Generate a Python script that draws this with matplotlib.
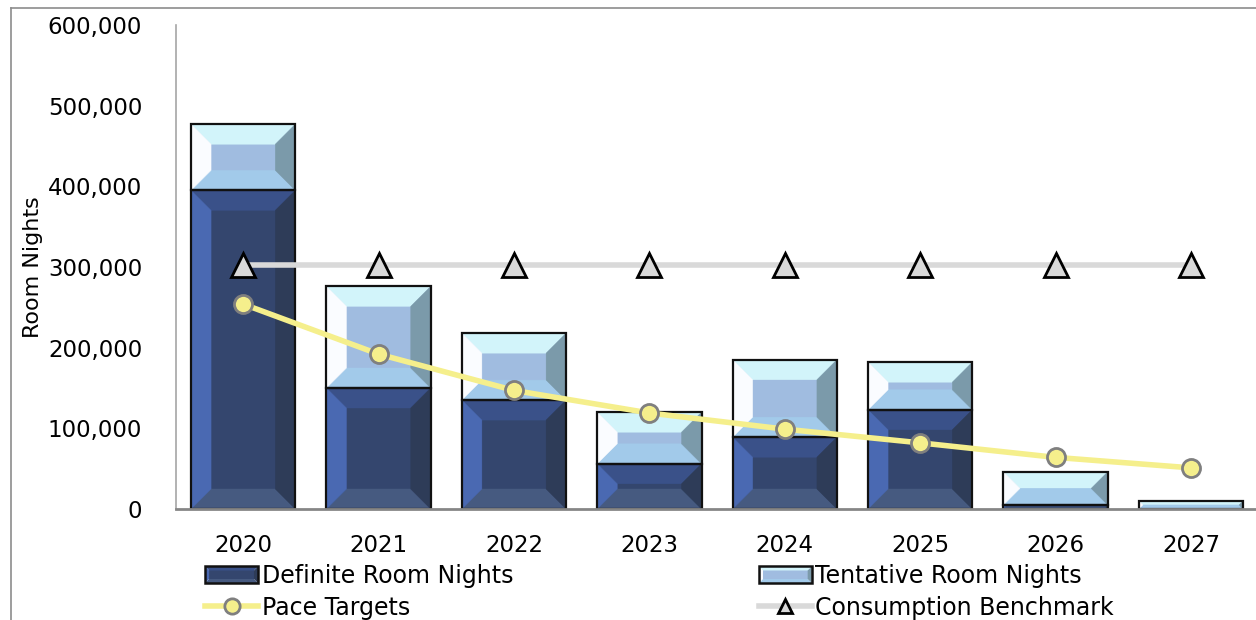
import matplotlib
matplotlib.use("Agg")
import matplotlib.pyplot as plt
from matplotlib.patches import Polygon, Rectangle
from matplotlib.lines import Line2D
from matplotlib.legend_handler import HandlerBase
from matplotlib.ticker import FuncFormatter

years = ["2020", "2021", "2022", "2023", "2024", "2025", "2026", "2027"]
definite = [395000, 150000, 135000, 56000, 89000, 123000, 5000, 0]
tentative = [82000, 126000, 83000, 64000, 96000, 59000, 41000, 10000]
pace_targets = [254000, 192000, 147000, 119000, 99000, 82000, 64000, 51000]
consumption = [302000] * 8

DEF_COLS = dict(center="#34466E", top="#3A5189", left="#4A69B2", right="#2E3C58", bottom="#465A80")
TEN_COLS = dict(center="#A0BCE0", top="#D2F4FA", left="#FAFCFF", right="#7B9AAA", bottom="#A2CAEA")

W, H, DPI = 1256, 620, 100
fig = plt.figure(figsize=(W / DPI, H / DPI), dpi=DPI)
plt.rcParams["font.family"] = ["DejaVu Sans"]

ax_l, ax_r, ax_b, ax_t = 175.5, 1258.7, 509, 25
ax = fig.add_axes([ax_l / W, 1 - ax_b / H, (ax_r - ax_l) / W, (ax_b - ax_t) / H])
ax.set_xlim(-0.5, len(years) - 0.5)
ax.set_ylim(0, 600000)

x = list(range(len(years)))
bw = 0.77

def bevel_patches(ax, rect, cols, bpx=20):
    x0, y0 = rect.get_x(), rect.get_y()
    x1, y1 = x0 + rect.get_width(), y0 + rect.get_height()
    (px0, py0) = ax.transData.transform((x0, y0))
    (px1, py1) = ax.transData.transform((x1, y1))
    hpx, wpx = abs(py1 - py0), abs(px1 - px0)
    if hpx < 0.5:
        return
    b = min(bpx, hpx / 2.0, wpx / 2.0)
    inv = ax.transData.inverted()
    def d(px, py):
        return inv.transform((px, py))
    polys = {
        "center": [d(px0 + b, py0 + b), d(px1 - b, py0 + b), d(px1 - b, py1 - b), d(px0 + b, py1 - b)],
        "top": [d(px0, py1), d(px1, py1), d(px1 - b, py1 - b), d(px0 + b, py1 - b)],
        "bottom": [d(px0, py0), d(px1, py0), d(px1 - b, py0 + b), d(px0 + b, py0 + b)],
        "left": [d(px0, py0), d(px0, py1), d(px0 + b, py1 - b), d(px0 + b, py0 + b)],
        "right": [d(px1, py0), d(px1, py1), d(px1 - b, py1 - b), d(px1 - b, py0 + b)],
    }
    for k, pts in polys.items():
        ax.add_patch(Polygon(pts, closed=True, facecolor=cols[k], edgecolor=cols[k],
                             linewidth=0.3, zorder=2))
    ax.add_patch(Rectangle((x0, y0), x1 - x0, y1 - y0, fill=False, edgecolor="#111111",
                           linewidth=1.6, zorder=2.5))

bars_def = ax.bar(x, definite, width=bw, color=DEF_COLS["center"], linewidth=0, zorder=1)
bars_ten = ax.bar(x, tentative, width=bw, bottom=definite, color=TEN_COLS["center"], linewidth=0, zorder=1)
for r in bars_def:
    bevel_patches(ax, r, DEF_COLS)
for r in bars_ten:
    bevel_patches(ax, r, TEN_COLS)

ax.plot(x, consumption, color="#D9D9D9", linewidth=4, marker="^", markersize=17,
        markerfacecolor="#D9D9D9", markeredgecolor="#000000", markeredgewidth=2, zorder=3)
ax.plot(x, pace_targets, color="#F5EF8C", linewidth=4, marker="o", markersize=13,
        markerfacecolor="#F5EF8C", markeredgecolor="#7F7F7F", markeredgewidth=2, zorder=4)

ax.set_xticks(x)
ax.set_xticklabels(years)
ax.set_yticks(range(0, 600001, 100000))
ax.yaxis.set_major_formatter(FuncFormatter(lambda v, p: f"{int(v):,}"))
ax.tick_params(axis="y", length=0, pad=24, labelsize=16.5, colors="#000000")
ax.tick_params(axis="x", length=0, pad=18, labelsize=16.5)
for s in ["top", "right"]:
    ax.spines[s].set_visible(False)
ax.spines["left"].set_color("#A6A6A6")
ax.spines["left"].set_linewidth(1.2)
ax.spines["bottom"].set_color("#868686")
ax.spines["bottom"].set_linewidth(2)
ax.set_ylabel("Room Nights", fontsize=16)
ax.yaxis.set_label_coords((43 - ax_l) / (ax_r - ax_l), 0.5)

# Legend
class HandlerBevel(HandlerBase):
    def __init__(self, cols):
        super().__init__()
        self.cols = cols
    def create_artists(self, legend, orig_handle, xdescent, ydescent, width, height, fontsize, trans):
        x0, y0 = -xdescent, -ydescent
        x1, y1 = x0 + width, y0 + height
        b = min(3, height / 2)
        c = self.cols
        arts = [
            Polygon([(x0 + b, y0 + b), (x1 - b, y0 + b), (x1 - b, y1 - b), (x0 + b, y1 - b)], facecolor=c["center"]),
            Polygon([(x0, y1), (x1, y1), (x1 - b, y1 - b), (x0 + b, y1 - b)], facecolor=c["top"]),
            Polygon([(x0, y0), (x1, y0), (x1 - b, y0 + b), (x0 + b, y0 + b)], facecolor=c["bottom"]),
            Polygon([(x0, y0), (x0, y1), (x0 + b, y1 - b), (x0 + b, y0 + b)], facecolor=c["left"]),
            Polygon([(x1, y0), (x1, y1), (x1 - b, y1 - b), (x1 - b, y0 + b)], facecolor=c["right"]),
            Rectangle((x0, y0), width, height, fill=False, edgecolor="#111111", linewidth=1.8),
        ]
        for a in arts:
            a.set_transform(trans)
            if isinstance(a, Polygon):
                a.set_edgecolor("none")
        return arts

h_def = Rectangle((0, 0), 1, 1)
h_ten = Rectangle((0, 1), 1, 1)
h_pace = Line2D([], [], color="#F5EF8C", linewidth=4, marker="o", markersize=11,
                markerfacecolor="#F5EF8C", markeredgecolor="#7F7F7F", markeredgewidth=2)
h_cons = Line2D([], [], color="#D9D9D9", linewidth=4, marker="^", markersize=10,
                markerfacecolor="#D9D9D9", markeredgecolor="#000000", markeredgewidth=2)
leg = fig.legend([h_def, h_pace, h_ten, h_cons],
                 ["Definite Room Nights", "Pace Targets", "Tentative Room Nights", "Consumption Benchmark"],
                 handler_map={h_def: HandlerBevel(DEF_COLS), h_ten: HandlerBevel(TEN_COLS)},
                 loc="upper left", bbox_to_anchor=(205 / W, 1 - 564 / H), ncol=2, frameon=False,
                 fontsize=17, handlelength=2.25, handleheight=0.72, handletextpad=0.15,
                 columnspacing=10.4, labelspacing=0.32, borderpad=0, borderaxespad=0)

# outer chart frame
fig.add_artist(Line2D([11 / W, 11 / W], [0, 1 - 8 / H], transform=fig.transFigure, color="#8C8C8C", linewidth=1.2))
fig.add_artist(Line2D([11 / W, 1], [1 - 8 / H, 1 - 8 / H], transform=fig.transFigure, color="#8C8C8C", linewidth=1.2))

fig.savefig("out.png", dpi=DPI)
